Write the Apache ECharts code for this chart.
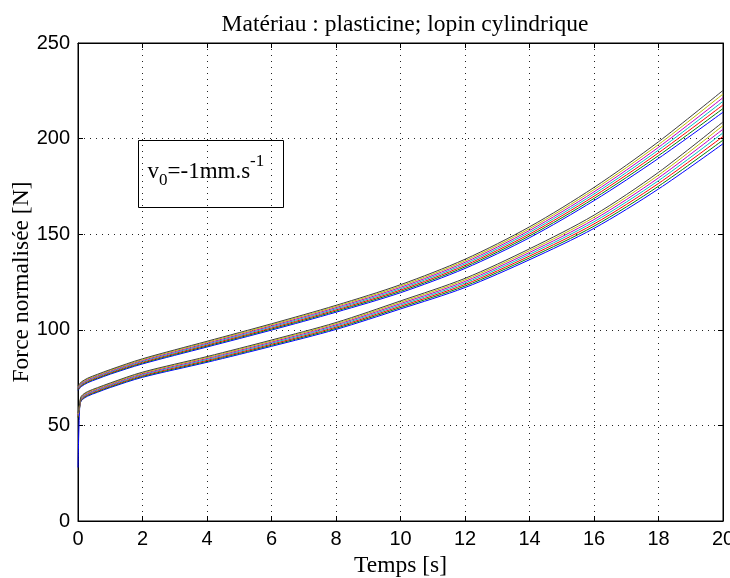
<!DOCTYPE html>
<html>
<head>
<meta charset="utf-8">
<script src="https://cdn.jsdelivr.net/npm/echarts@6/dist/echarts.min.js"></script>
<style>
  html, body { margin: 0; padding: 0; background: #fff; }
  #myChart { width: 730px; height: 578px; }
</style>
</head>
<body>
<div id="myChart"></div>
<script>
// temps [s]
var time = [0, 0.05, 0.1, 0.3, 0.6, 1, 2, 4, 6, 8, 10, 12, 14, 16, 18, 20];

// faisceau du haut (bleu en bas ... noir en haut)
var upperBlue    = [68.3, 69.3, 70.3, 72.3, 74.3, 76.8, 82.15, 91, 99.85, 109.2, 119.4, 132.1, 148.15, 167.55, 189.65, 213.8];
var upperGreen   = [68.7, 69.7, 70.7, 72.7, 74.7, 77.2, 82.6, 91.5, 100.4, 109.8, 120.1, 132.9, 149.1, 168.7, 191.1, 215.7];
var upperRed     = [69.1, 70.1, 71.1, 73.1, 75.1, 77.6, 83.05, 92, 100.95, 110.4, 120.8, 133.7, 150.05, 169.85, 192.55, 217.6];
var upperCyan    = [69.5, 70.5, 71.5, 73.5, 75.5, 78, 83.5, 92.5, 101.5, 111, 121.5, 134.5, 151, 171, 194, 219.5];
var upperMagenta = [69.9, 70.9, 71.9, 73.9, 75.9, 78.4, 83.95, 93, 102.05, 111.6, 122.2, 135.3, 151.95, 172.15, 195.45, 221.4];
var upperYellow  = [70.3, 71.3, 72.3, 74.3, 76.3, 78.8, 84.4, 93.5, 102.6, 112.2, 122.9, 136.1, 152.9, 173.3, 196.9, 223.3];
var upperBlack   = [70.7, 71.7, 72.7, 74.7, 76.7, 79.2, 84.85, 94, 103.15, 112.8, 123.6, 136.9, 153.85, 174.45, 198.35, 225.2];

// faisceau du bas
var lowerBlue    = [28, 58.8, 62.8, 65.3, 67.3, 69.8, 75.15, 83, 91.35, 100.2, 110.9, 122.1, 136.65, 153.05, 173.65, 197.3];
var lowerGreen   = [54, 59.2, 63.2, 65.7, 67.7, 70.2, 75.6, 83.5, 91.9, 100.8, 111.6, 122.9, 137.6, 154.2, 175.1, 199.2];
var lowerRed     = [54.5, 59.6, 63.6, 66.1, 68.1, 70.6, 76.05, 84, 92.45, 101.4, 112.3, 123.7, 138.55, 155.35, 176.55, 201.1];
var lowerCyan    = [55, 60, 64, 66.5, 68.5, 71, 76.5, 84.5, 93, 102, 113, 124.5, 139.5, 156.5, 178, 203];
var lowerMagenta = [55.5, 60.4, 64.4, 66.9, 68.9, 71.4, 76.95, 85, 93.55, 102.6, 113.7, 125.3, 140.45, 157.65, 179.45, 204.9];
var lowerYellow  = [56, 60.8, 64.8, 67.3, 69.3, 71.8, 77.4, 85.5, 94.1, 103.2, 114.4, 126.1, 141.4, 158.8, 180.9, 206.8];
var lowerBlack   = [56.5, 61.2, 65.2, 67.7, 69.7, 72.2, 77.85, 86, 94.65, 103.8, 115.1, 126.9, 142.35, 159.95, 182.35, 208.7];

// couleurs matlab b g r c m y k
var colors = ['#0000ff', '#008000', '#ff0000', '#00bfbf', '#bf00bf', '#bfbf00', '#404040'];

var upper = [upperBlue, upperGreen, upperRed, upperCyan, upperMagenta, upperYellow, upperBlack];
var lower = [lowerBlue, lowerGreen, lowerRed, lowerCyan, lowerMagenta, lowerYellow, lowerBlack];

var serif = '"Liberation Serif", "DejaVu Serif", serif';
var sans = '"Liberation Sans Narrow", "Liberation Sans", sans-serif';

function makeSeries(values, color) {
    return {
        type: 'line',
        xAxisIndex: 0,
        yAxisIndex: 0,
        data: time.map(function (t, i) { return [t, values[i]]; }),
        showSymbol: false,
        smooth: 0.3,
        lineStyle: { color: color, width: 1 },
        itemStyle: { color: color },
        emphasis: { disabled: true },
        silent: true
    };
}

var series = [];
for (var k = 0; k < 7; k++) {
    series.push(makeSeries(lower[k], colors[k]));
    series.push(makeSeries(upper[k], colors[k]));
}

var dotted = { color: '#222', width: 1, type: [1, 5] };
var tick = { show: true, inside: true, length: 5, lineStyle: { color: '#000' } };
var line = { show: true, onZero: false, lineStyle: { color: '#000', width: 1 } };

var chart = echarts.init(document.getElementById('myChart'));
chart.setOption({
    animation: false,
    backgroundColor: '#fff',
    title: {
        text: 'Matériau : plasticine; lopin cylindrique',
        left: 400,
        textAlign: 'center',
        top: 8,
        textStyle: { fontFamily: serif, fontSize: 23.5, fontWeight: 'normal', color: '#000' }
    },
    grid: {
        left: 78, right: 7, top: 43, bottom: 57,
        outerBoundsMode: 'none',
        containLabel: false,
        show: true, borderColor: '#000', borderWidth: 1
    },
    xAxis: [
        {
            type: 'value', min: 0, max: 20, interval: 2,
            name: 'Temps [s]', nameLocation: 'middle', nameGap: 32,
            nameTextStyle: { fontFamily: serif, fontSize: 23.5, color: '#000' },
            axisLine: line,
            axisTick: tick,
            axisLabel: { fontFamily: sans, fontSize: 20, color: '#000', margin: 8 },
            splitLine: { show: true, lineStyle: dotted }
        },
        {
            type: 'value', min: 0, max: 20, interval: 2, position: 'top',
            axisLine: line,
            axisTick: tick,
            axisLabel: { show: false },
            splitLine: { show: false }
        }
    ],
    yAxis: [
        {
            type: 'value', min: 0, max: 250, interval: 50,
            name: 'Force normalisée [N]', nameLocation: 'middle', nameGap: 44,
            nameMoveOverlap: false,
            nameTextStyle: { fontFamily: serif, fontSize: 23.5, color: '#000' },
            axisLine: line,
            axisTick: tick,
            axisLabel: { fontFamily: sans, fontSize: 20, color: '#000', margin: 8 },
            splitLine: { show: true, lineStyle: dotted }
        },
        {
            type: 'value', min: 0, max: 250, interval: 50, position: 'right',
            axisLine: line,
            axisTick: tick,
            axisLabel: { show: false },
            splitLine: { show: false }
        }
    ],
    graphic: [
        {
            type: 'group',
            left: 138,
            top: 140,
            z: 100,
            children: [
                {
                    type: 'rect',
                    shape: { x: 0, y: 0, width: 145, height: 67 },
                    style: { fill: '#fff', stroke: '#000', lineWidth: 1 }
                },
                {
                    type: 'text',
                    x: 9,
                    y: 13,
                    style: {
                        text: '{n|v}{sub|0}{n|=-1mm.s}{sup|-1}',
                        rich: {
                            n: { fontFamily: serif, fontSize: 23, lineHeight: 36, fill: '#000' },
                            sub: { fontFamily: serif, fontSize: 17, lineHeight: 17, verticalAlign: 'bottom', fill: '#000' },
                            sup: { fontFamily: serif, fontSize: 17, lineHeight: 17, verticalAlign: 'top', fill: '#000' }
                        }
                    }
                }
            ]
        }
    ],
    series: series
});
</script>
</body>
</html>
